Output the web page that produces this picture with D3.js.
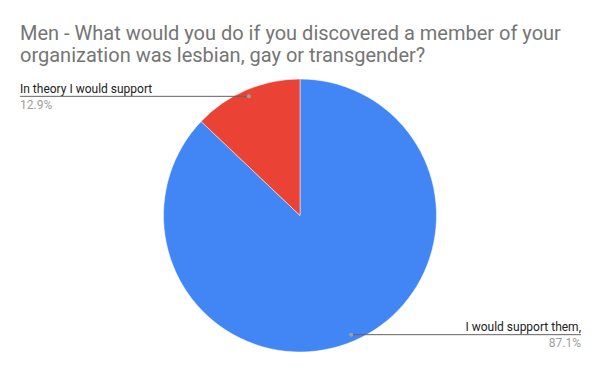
<!DOCTYPE html>
<html><head><meta charset="utf-8">
<script src="https://cdn.jsdelivr.net/npm/d3@7"></script>
<style>body{margin:0;background:#fff}svg{display:block}</style>
</head><body>
<svg id="c" width="600" height="371"></svg>
<script>
const titleLines = ["Men - What would you do if you discovered a member of your", "organization was lesbian, gay or transgender?"];
const categories = ["I would support them,", "In theory I would support"];
const values = [87.1, 12.9];
const percentLabels = ["87.1%", "12.9%"];
const colors = ["#4285F4", "#EA4335"];

const svg = d3.select("#c");
const W = 600, H = 371;
const font = "Roboto, Arial, sans-serif";
svg.append("rect").attr("width", W).attr("height", H).attr("fill", "#fff");

svg.append("g").selectAll("text").data(titleLines).join("text")
  .attr("x", 20).attr("y", (d, i) => 39.7 + i * 22.5)
  .attr("font-family", font)
  .attr("font-size", 20).attr("fill", "#757575").text(d => d);

const cx = 300, cy = 215.5, R = 136.5;
const pie = d3.pie().sort(null).value(d => d).startAngle(0).endAngle(2 * Math.PI);
const arcs = pie(values);
const arc = d3.arc().innerRadius(0).outerRadius(R);
const dotArc = d3.arc().innerRadius(R * 0.95).outerRadius(R * 0.95);

const g = svg.append("g").attr("transform", `translate(${cx},${cy})`);
g.selectAll("path").data(arcs).join("path")
  .attr("d", arc).attr("fill", (d, i) => colors[i])
  .attr("stroke", "#fff").attr("stroke-width", 0.5);

arcs.forEach((a, i) => {
  const [dx, dy] = dotArc.centroid(a);
  const px = cx + dx, py = cy + dy;
  const right = dx > 0;
  const x0 = right ? px : 20;
  const x1 = right ? 581 : px;
  svg.append("line").attr("x1", x0).attr("x2", x1).attr("y1", py).attr("y2", py)
    .attr("stroke", "#636363").attr("stroke-width", 1);
  svg.append("circle").attr("cx", px).attr("cy", py).attr("r", 2).attr("fill", "#9e9e9e");
  const tx = right ? 581 : 20;
  const anchor = right ? "end" : "start";
  svg.append("text").attr("x", tx).attr("y", py - 3.5)
    .attr("text-anchor", anchor).attr("font-family", font).attr("font-size", 12)
    .attr("fill", "#222").text(categories[i]);
  svg.append("text").attr("x", tx).attr("y", py + 12.5)
    .attr("text-anchor", anchor).attr("font-family", font).attr("font-size", 12)
    .attr("fill", "#9e9e9e").text(percentLabels[i]);
});
</script>
</body></html>
